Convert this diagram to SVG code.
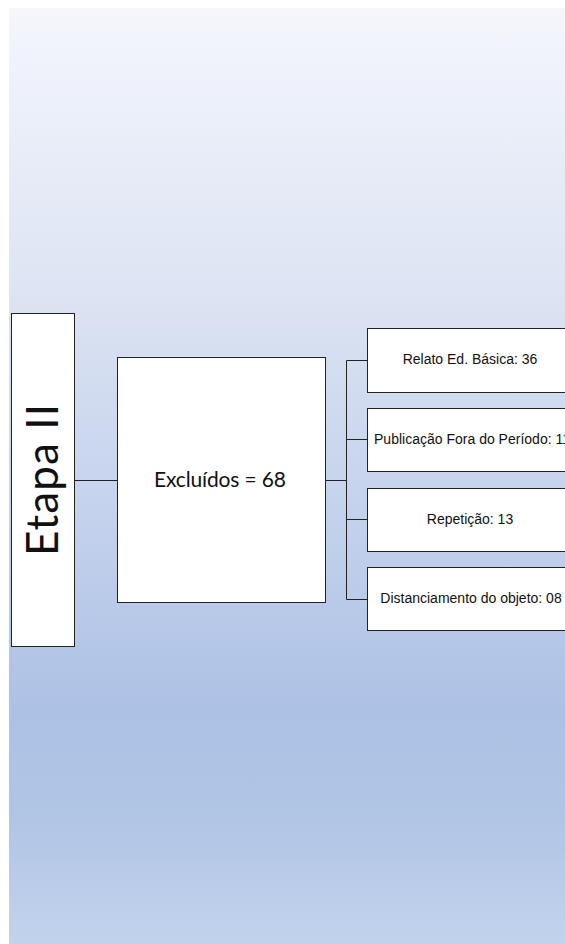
<svg xmlns="http://www.w3.org/2000/svg" width="565" height="944" viewBox="0 0 565 944">
<defs>
<linearGradient id="bg" x1="0" y1="0" x2="0" y2="1">
<stop offset="0" stop-color="#f6f6fb"/>
<stop offset="0.05" stop-color="#f0f3fb"/>
<stop offset="0.3" stop-color="#dde4f3"/>
<stop offset="0.55" stop-color="#c3d1ec"/>
<stop offset="0.75" stop-color="#adc1e5"/>
<stop offset="0.87" stop-color="#b1c5e5"/>
<stop offset="1" stop-color="#c2d3ec"/>
</linearGradient>
</defs>
<style>
.box{fill:#fff;stroke:#222;stroke-width:1}
.c{stroke:#222;stroke-width:1;fill:none}
.s{font-family:"Liberation Sans",Arial,sans-serif;font-size:14px;fill:#111;text-anchor:middle}
</style>
<rect x="9" y="8" width="556" height="936" fill="url(#bg)"/>
<g id="connectors">
<line class="c" x1="75" y1="480.5" x2="117" y2="480.5"/>
<line class="c" x1="325" y1="480.5" x2="346" y2="480.5" stroke-width="2"/>
<polyline class="c" points="367,360.5 346.5,360.5 346.5,599.5 367,599.5"/>
<line class="c" x1="346" y1="439.5" x2="367" y2="439.5"/>
<line class="c" x1="346" y1="519.5" x2="367" y2="519.5"/>
</g>
<g id="etapa">
<rect class="box" x="11.5" y="313.5" width="63" height="333"/>
<text transform="translate(58,480) rotate(-90)" font-family="Lato,'Open Sans',sans-serif" font-size="44" text-anchor="middle" textLength="152" fill="#111">Etapa II</text>
</g>
<g id="excluidos">
<rect class="box" x="117.5" y="357.5" width="208" height="245"/>
<text x="220" y="487" font-family="Lato,'Open Sans',sans-serif" font-size="21" text-anchor="middle" textLength="132" fill="#111">Excluídos = 68</text>
</g>
<g id="relato">
<rect class="box" x="367.5" y="328.5" width="210" height="64"/>
<text class="s" x="470" y="364">Relato Ed. Básica: 36</text>
</g>
<g id="publicacao">
<rect class="box" x="367.5" y="408.5" width="210" height="63"/>
<text class="s" x="472" y="444" textLength="196">Publicação Fora do Período: 11</text>
</g>
<g id="repeticao">
<rect class="box" x="367.5" y="488.5" width="210" height="63"/>
<text class="s" x="470" y="524">Repetição: 13</text>
</g>
<g id="distanciamento">
<rect class="box" x="367.5" y="567.5" width="210" height="63"/>
<text class="s" x="471" y="603">Distanciamento do objeto: 08</text>
</g>
</svg>
